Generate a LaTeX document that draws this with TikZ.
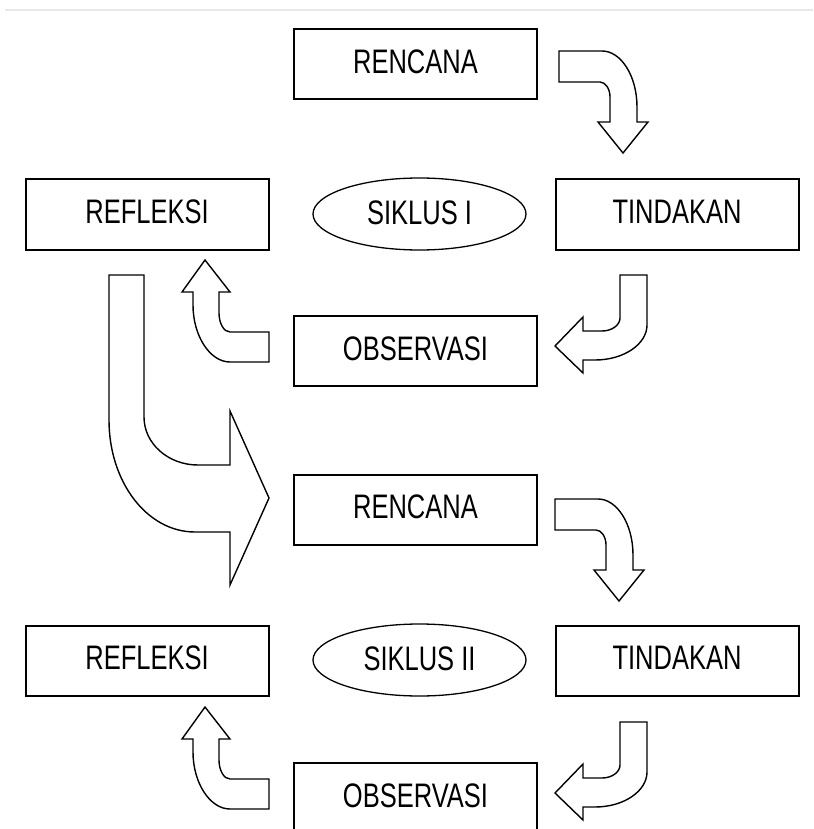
\documentclass[tikz,border=0pt]{standalone}
\usepackage{fontspec}
\setmainfont{Liberation Sans}[FakeStretch=0.75]
\usetikzlibrary{shapes.geometric}
\tikzset{
  stagebox/.style={draw=black, line width=2pt, fill=white, minimum width=243pt, minimum height=70pt, inner sep=0pt, text depth=5pt, font=\fontsize{34}{38}\selectfont},
  cycleell/.style={draw=black, line width=1.3pt, ellipse, minimum width=213pt, minimum height=72pt, inner sep=0pt, text depth=2pt, font=\fontsize{34}{38}\selectfont},
  blockarrow/.style={draw=black, line width=1.4pt, fill=white, line join=miter},
}
\begin{document}
\begin{tikzpicture}[x=1pt,y=-1pt]
\clip (0,0) rectangle (813,829);
\fill[white] (0,0) rectangle (813,829);
\draw[line width=2.5pt, color=black!9] (5,10) -- (813,10);

% cycle I
\node[stagebox] (ren1) at (415.5,64.5) {RENCANA};
\node[stagebox] (ref1) at (147,214.5) {REFLEKSI};
\node[cycleell] (sik1) at (419.5,214) {SIKLUS I};
\node[stagebox] (tin1) at (677,214.5) {TINDAKAN};
\node[stagebox] (obs1) at (415.5,351) {OBSERVASI};

% cycle II
\node[stagebox] (ren2) at (415.5,509.5) {RENCANA};
\node[stagebox] (ref2) at (147,660.5) {REFLEKSI};
\node[cycleell] (sik2) at (419.5,660) {SIKLUS II};
\node[stagebox] (tin2) at (677,660.5) {TINDAKAN};
\node[stagebox] (obs2) at (415.5,798) {OBSERVASI};

% arrow shapes
\newcommand{\arrA}{(559,51) -- (602,51) .. controls (621,51) and (637,76) .. (637,107) -- (637,122) -- (648,122) -- (623,153) -- (598,122) -- (610,122) -- (610,97) .. controls (610,89) and (605.5,82) .. (600,82) -- (559,82) -- cycle}
\newcommand{\arrB}{(620,275) -- (647,275) -- (647,325) .. controls (647,344) and (624,360) .. (595,360) -- (583,360) -- (583,373) -- (555,346) -- (583,317) -- (583,331) -- (602,331) .. controls (612,331) and (620,325) .. (620,318) -- cycle}
\newcommand{\arrC}{(205,260) -- (230,292) -- (219,292) -- (219,313) .. controls (219,323.5) and (224,332) .. (230,332) -- (269,332) -- (269,362) -- (230,362) .. controls (210,362) and (193,336) .. (193,305) -- (193,292) -- (182,292) -- cycle}

\draw[blockarrow] \arrA;
\draw[blockarrow] \arrB;
\draw[blockarrow] \arrC;
\draw[blockarrow] (109,275) -- (144,275) -- (144,417) .. controls (144,443.5) and (168,465) .. (198,465) -- (230,465) -- (230,411) -- (269,498) -- (230,585) -- (230,532) -- (195,532) .. controls (147,532) and (109,482) .. (109,420) -- cycle;

\begin{scope}[shift={(-4,448)}]
\draw[blockarrow] \arrA;
\end{scope}
\begin{scope}[shift={(0,447)}]
\draw[blockarrow] \arrB;
\draw[blockarrow] \arrC;
\end{scope}
\end{tikzpicture}
\end{document}
